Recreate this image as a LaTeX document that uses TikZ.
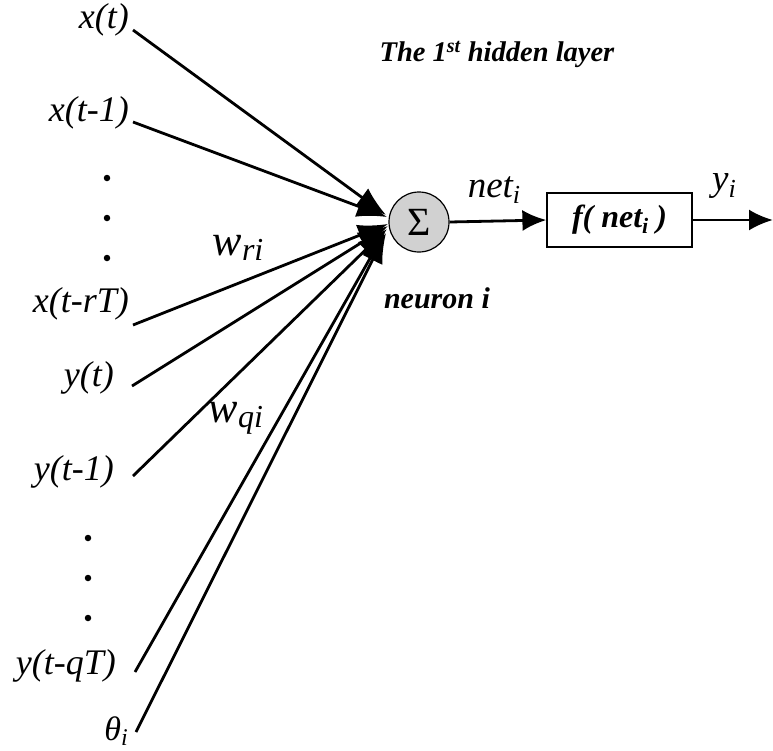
\documentclass[tikz,border=0pt]{standalone}
\usepackage{fontspec}
\setmainfont{Liberation Serif}
\usetikzlibrary{arrows.meta}
\tikzset{
  inlbl/.style={anchor=east,inner sep=0pt,font=\fontsize{36}{40}\selectfont\itshape},
  wire/.style={line width=2.8pt,-{Latex[length=30pt,width=22pt]}},
  flow/.style={line width=2.8pt,-{Latex[length=24pt,width=21pt]}},
  dotmark/.style={circle,fill=black,inner sep=0pt,minimum size=6.5pt}
}
\begin{document}
\begin{tikzpicture}[x=1pt,y=-1pt]
\useasboundingbox (0,0) rectangle (773,750);
% inputs
\node[inlbl] (xt)   at (129,20)  {x(t)};
\node[inlbl] (xt1)  at (129,113) {x(t-1)};
\node[inlbl] (xtr)  at (129,304) {x(t-rT)};
\node[inlbl] (yt)   at (114,378) {y(t)};
\node[inlbl] (yt1)  at (114,472) {y(t-1)};
\node[inlbl] (ytq)  at (116,666) {y(t-qT)};
\node[inlbl] (th)   at (128,731) {\fontsize{34}{36}\selectfont θ\raisebox{-0.35ex}{\fontsize{24}{26}\selectfont i}};
% dots
\foreach \n/\yy in {d1/178,d2/218,d3/258}{\node[dotmark] (\n) at (107,\yy) {};}
\foreach \n/\yy in {e1/538,e2/578,e3/618}{\node[dotmark] (\n) at (88,\yy) {};}
% line starts
\coordinate (s1) at (133,30);
\coordinate (s2) at (133,122);
\coordinate (s3) at (133,325);
\coordinate (s4) at (132,386);
\coordinate (s5) at (133,476);
\coordinate (s6) at (135,672);
\coordinate (s7) at (136,732);
% neuron
\node[circle,draw=black,line width=1.2pt,fill=black!18,minimum size=60pt,inner sep=0pt,
      font=\fontsize{40}{42}\selectfont] (neuron) at (419,222) {Σ};
% tips
\coordinate (t1) at (386,215);
\coordinate (t2) at (387,217);
\coordinate (t3) at (388,224);
\coordinate (t4) at (388,226);
\coordinate (t5) at (387,229);
\coordinate (t6) at (385,232);
\coordinate (t7) at (386,233);
\draw[wire] (s1) -- (t1);
\draw[wire] (s2) -- (t2);
\draw[wire] (s3) -- (t3);
\draw[wire] (s4) -- (t4);
\draw[wire] (s5) -- (t5);
\draw[wire] (s6) -- (t6);
\draw[wire] (s7) -- (t7);
% weight labels
\node[inner sep=0pt,font=\fontsize{44}{48}\selectfont\itshape] (wr) at (238,248)
  {w\raisebox{-0.25ex}{\fontsize{32}{34}\selectfont ri}};
\node[inner sep=0pt,font=\fontsize{44}{48}\selectfont\itshape] (wq) at (236,418)
  {w\raisebox{-0.25ex}{\fontsize{32}{34}\selectfont qi}};
% title
\node[inner sep=0pt,font=\fontsize{28.5}{32}\selectfont\bfseries\itshape] (title) at (497,54)
  {The 1\textsuperscript{st} hidden layer};
\node[inner sep=0pt,font=\fontsize{30}{34}\selectfont\bfseries\itshape] (nlab) at (437,298) {neuron i};
% function box
\node[draw=black,line width=1.2pt,minimum width=145pt,minimum height=54pt,inner sep=0pt,
      font=\fontsize{32}{36}\selectfont\bfseries\itshape] (fbox) at (619.5,220)
  {f( net\raisebox{-0.35ex}{\fontsize{22}{24}\selectfont i} )};
\coordinate (out) at (773,220);
\draw[flow] (neuron.east) -- (fbox.west);
\draw[flow] (fbox.east) -- (out);
\node[inner sep=0pt,font=\fontsize{37}{40}\selectfont\itshape] (netl) at (494,190)
  {net\raisebox{-0.4ex}{\fontsize{26}{28}\selectfont i}};
\node[inner sep=0pt,font=\fontsize{37}{40}\selectfont\itshape] (yl) at (724,186)
  {y\raisebox{-0.4ex}{\fontsize{26}{28}\selectfont i}};
\end{tikzpicture}
\end{document}
